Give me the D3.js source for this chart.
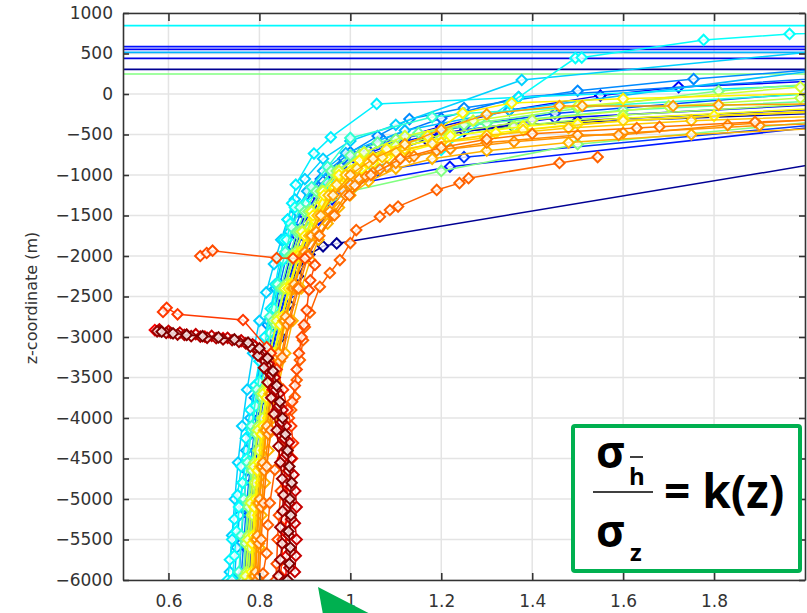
<!DOCTYPE html>
<html>
<head>
<meta charset="utf-8">
<script src="https://cdn.jsdelivr.net/npm/d3@7"></script>
<style>
  body { margin: 0; background: #fff; }
  svg { display: block; font-family: "DejaVu Sans", sans-serif; }
</style>
</head>
<body>
<svg id="chart" width="807" height="613"></svg>
<script>
// ratio sigma_h / sigma_z against depth, one profile per well
// each well: [ratio, z] pairs, colour value (0..1 on jet) kept alongside

var xTicks = [0.6, 0.8, 1, 1.2, 1.4, 1.6, 1.8];
var zTicks = [1000, 500, 0, -500, -1000, -1500, -2000, -2500, -3000, -3500, -4000, -4500, -5000, -5500, -6000];

// wells whose ratio is off the scale: only show as flat lines
var flatDepths = [843, 584, 552, 515, 440, 305, 247];
var flatColours = [0.37, 0.14, 0.12, 0.30, 0.10, 0.02, 0.50];

var navyA = [[0.775,-6000],[0.78,-5500],[0.787,-5000],[0.795,-4600],[0.805,-4200],[0.818,-3800],[0.832,-3400],[0.848,-3000],[0.865,-2600],[0.885,-2250],[0.91,-1980],[0.94,-1880],[0.97,-1845],[2.2,-700]];
var navyB = [[0.785,-5950],[0.79,-5500],[0.795,-5050],[0.803,-4600],[0.812,-4150],[0.825,-3700],[0.84,-3250],[0.857,-2800],[0.875,-2400],[0.892,-2050],[0.91,-1750],[0.93,-1500],[0.955,-1250],[0.99,-1000],[1.05,-780],[1.168,-568],[1.197,-506],[1.355,-383],[2.2,-200]];
var navyC = [[0.78,-5900],[0.784,-5450],[0.79,-5000],[0.798,-4550],[0.807,-4100],[0.819,-3650],[0.834,-3200],[0.851,-2750],[0.87,-2350],[0.89,-1950],[0.905,-1700],[0.925,-1450],[0.95,-1200],[0.985,-960],[1.04,-760],[1.12,-600],[1.25,-460],[1.5,-330],[2.2,-140]];
var blueA = [[0.765,-6000],[0.77,-5600],[0.776,-5200],[0.783,-4800],[0.792,-4400],[0.8,-4000],[0.812,-3600],[0.826,-3200],[0.842,-2800],[0.86,-2400],[0.88,-2000],[0.895,-1700],[0.915,-1450],[0.94,-1200],[0.975,-950],[1.02,-750],[1.1,-560],[1.2,-400],[1.35,-200],[1.55,-20],[1.722,86],[2.2,200]];
var blueB = [[0.78,-6000],[0.784,-5500],[0.79,-5000],[0.8,-4500],[0.81,-4000],[0.825,-3500],[0.842,-3000],[0.862,-2500],[0.885,-2050],[0.905,-1800],[0.93,-1550],[0.96,-1300],[1.0,-1120],[1.219,-898],[2.2,-300]];
var blueC = [[0.77,-5900],[0.775,-5450],[0.782,-5000],[0.79,-4550],[0.8,-4100],[0.812,-3650],[0.828,-3200],[0.845,-2750],[0.866,-2300],[0.888,-1950],[0.91,-1650],[0.94,-1400],[0.98,-1150],[1.06,-950],[1.25,-780],[2.2,-290]];
var blueD = [[0.772,-6000],[0.776,-5500],[0.782,-5000],[0.79,-4500],[0.8,-4000],[0.813,-3500],[0.828,-3000],[0.846,-2500],[0.866,-2050],[0.882,-1750],[0.9,-1500],[0.925,-1250],[0.96,-1000],[1.01,-800],[1.09,-620],[1.2,-480],[1.45,-300],[2.2,-80]];
var blueE = [[0.768,-5950],[0.773,-5500],[0.779,-5050],[0.787,-4600],[0.796,-4150],[0.807,-3700],[0.821,-3250],[0.837,-2800],[0.856,-2350],[0.876,-1950],[0.892,-1650],[0.912,-1400],[0.94,-1150],[0.98,-900],[1.04,-700],[1.12,-540],[1.25,-400],[1.45,-240],[2.2,100]];
var lightBlueA = [[0.755,-6000],[0.76,-5550],[0.765,-5100],[0.772,-4650],[0.78,-4200],[0.79,-3750],[0.803,-3300],[0.818,-2850],[0.835,-2400],[0.853,-2000],[0.868,-1700],[0.885,-1450],[0.91,-1200],[0.95,-950],[1.0,-720],[1.06,-520],[1.13,-309],[1.25,-173],[1.5,40],[1.755,185],[2.2,380]];
var lightBlueB = [[0.76,-5950],[0.766,-5500],[0.772,-5050],[0.78,-4600],[0.789,-4150],[0.8,-3700],[0.813,-3250],[0.828,-2800],[0.845,-2350],[0.862,-1950],[0.878,-1650],[0.9,-1350],[0.935,-1050],[0.985,-800],[1.07,-560],[1.2,-300],[1.37,-37],[2.2,250]];
var cyanA = [[0.745,-6000],[0.75,-5600],[0.756,-5200],[0.763,-4800],[0.771,-4400],[0.78,-4000],[0.792,-3600],[0.805,-3200],[0.82,-2800],[0.836,-2400],[0.852,-2000],[0.866,-1700],[0.882,-1450],[0.905,-1200],[0.94,-950],[0.99,-730],[1.12,-450],[1.35,-200],[2.2,420]];
var cyanB = [[0.735,-5900],[0.74,-5450],[0.746,-5000],[0.753,-4550],[0.762,-4100],[0.773,-3650],[0.786,-3200],[0.8,-2800],[0.815,-2450],[0.832,-2100],[0.848,-1800],[0.862,-1550],[0.878,-1300],[0.9,-1050],[0.94,-800],[1.0,-580],[1.1,-380],[1.377,173],[2.2,620]];
var cyanC = [[0.73,-6000],[0.735,-5750],[0.74,-5500],[0.745,-5250],[0.752,-4950],[0.76,-4600],[0.77,-4250],[0.78,-3900],[0.79,-3600],[0.8,-3300],[0.812,-3000],[0.825,-2650],[0.835,-2350],[0.845,-2050],[0.853,-1800],[0.862,-1550],[0.872,-1350],[0.88,-1120],[0.92,-735],[0.957,-535],[1.058,-123],[1.37,-40],[2.2,150]];
var cyanD = [[0.74,-6000],[0.745,-5700],[0.75,-5400],[0.755,-5100],[0.763,-4800],[0.772,-4500],[0.782,-4150],[0.792,-3850],[0.8,-3550],[0.812,-3250],[0.823,-2950],[0.832,-2650],[0.842,-2350],[0.852,-2050],[0.86,-1800],[0.868,-1600],[0.878,-1400],[0.9,-1350],[0.95,-1100],[1.05,-900],[1.2,-690],[1.35,-120],[1.495,444],[1.509,450],[1.777,667],[1.966,741],[2.2,770]];
var tealA = [[0.755,-5900],[0.76,-5450],[0.766,-5000],[0.774,-4550],[0.783,-4100],[0.795,-3650],[0.808,-3200],[0.823,-2750],[0.84,-2350],[0.857,-1950],[0.872,-1650],[0.89,-1400],[0.915,-1150],[0.95,-900],[1.0,-543],[1.18,-285],[1.25,-240],[2.2,60]];
var greenA = [[0.765,-6000],[0.77,-5550],[0.776,-5100],[0.784,-4650],[0.794,-4200],[0.806,-3750],[0.82,-3300],[0.836,-2850],[0.853,-2400],[0.872,-2000],[0.888,-1700],[0.908,-1450],[0.935,-1200],[0.97,-950],[1.02,-750],[1.1,-560],[1.25,-380],[1.5,-180],[1.81,37],[2.2,200]];
var greenB = [[0.775,-5950],[0.78,-5500],[0.786,-5050],[0.794,-4600],[0.804,-4150],[0.816,-3700],[0.83,-3250],[0.847,-2800],[0.866,-2350],[0.888,-1950],[0.91,-1650],[0.94,-1400],[1.0,-1200],[1.2,-950],[1.5,-620],[2.2,-250]];
var greenC = [[0.765,-5950],[0.769,-5500],[0.775,-5050],[0.782,-4600],[0.791,-4150],[0.802,-3700],[0.815,-3250],[0.83,-2800],[0.847,-2400],[0.866,-2000],[0.882,-1700],[0.9,-1450],[0.925,-1200],[0.958,-950],[1.0,-760],[1.06,-600],[1.15,-480],[1.3,-360],[1.6,-200],[2.2,-40]];
var limeA = [[0.775,-6000],[0.779,-5600],[0.784,-5200],[0.79,-4800],[0.798,-4400],[0.807,-4000],[0.818,-3600],[0.832,-3200],[0.848,-2800],[0.866,-2400],[0.886,-2000],[0.902,-1750],[0.92,-1500],[0.945,-1250],[0.98,-1000],[1.03,-800],[1.1,-640],[1.22,-480],[1.4,-320],[1.7,-150],[1.99,-50],[2.2,20]];
var limeB = [[0.77,-5950],[0.775,-5500],[0.781,-5050],[0.788,-4600],[0.797,-4150],[0.808,-3700],[0.822,-3250],[0.838,-2800],[0.856,-2400],[0.876,-2000],[0.894,-1700],[0.915,-1450],[0.94,-1200],[0.975,-950],[1.03,-720],[1.12,-520],[1.27,-330],[1.5,-150],[1.99,86],[2.2,150]];
var limeC = [[0.772,-5900],[0.776,-5450],[0.782,-5000],[0.789,-4550],[0.798,-4100],[0.81,-3650],[0.824,-3200],[0.84,-2750],[0.859,-2350],[0.88,-1950],[0.896,-1700],[0.914,-1450],[0.938,-1200],[0.97,-1000],[1.02,-820],[1.09,-680],[1.2,-540],[1.36,-400],[1.6,-260],[2.2,-60]];
var yellowA = [[0.78,-6000],[0.784,-5550],[0.789,-5100],[0.796,-4650],[0.805,-4200],[0.816,-3750],[0.83,-3300],[0.846,-2850],[0.864,-2400],[0.885,-2000],[0.9,-1750],[0.918,-1500],[0.942,-1250],[0.975,-1000],[1.02,-820],[1.08,-680],[1.17,-520],[1.247,-235],[1.355,-111],[1.6,-60],[2.2,40]];
var yellowB = [[0.79,-6000],[0.793,-5600],[0.797,-5200],[0.803,-4800],[0.81,-4400],[0.819,-4000],[0.83,-3600],[0.843,-3200],[0.858,-2800],[0.875,-2400],[0.895,-2000],[0.912,-1750],[0.932,-1500],[0.96,-1250],[0.98,-1120],[1.0,-1000],[1.025,-920],[1.05,-850],[1.08,-780],[1.12,-720],[1.2,-600],[1.32,-480],[1.5,-370],[1.8,-270],[2.2,-190]];
var yellowC = [[0.785,-5950],[0.789,-5500],[0.794,-5050],[0.801,-4600],[0.81,-4150],[0.822,-3700],[0.836,-3250],[0.853,-2800],[0.872,-2400],[0.893,-2000],[0.91,-1750],[0.93,-1500],[0.955,-1250],[0.99,-1000],[1.04,-820],[1.12,-680],[1.2,-600],[1.296,-543],[1.38,-445],[1.6,-330],[2.2,-160]];
var yellowD = [[0.783,-5900],[0.787,-5450],[0.792,-5000],[0.799,-4550],[0.808,-4100],[0.82,-3650],[0.834,-3200],[0.85,-2750],[0.869,-2350],[0.89,-1950],[0.905,-1750],[0.92,-1550],[0.94,-1350],[0.965,-1150],[0.985,-1050],[1.0,-950],[1.025,-860],[1.05,-780],[1.085,-700],[1.12,-640],[1.22,-520],[1.38,-400],[1.6,-300],[2.2,-130]];
var amberA = [[0.788,-5950],[0.792,-5500],[0.797,-5050],[0.804,-4600],[0.812,-4150],[0.823,-3700],[0.837,-3250],[0.853,-2800],[0.872,-2400],[0.893,-2000],[0.91,-1750],[0.928,-1500],[0.952,-1250],[0.97,-1120],[0.99,-1000],[1.015,-920],[1.04,-850],[1.07,-780],[1.1,-720],[1.18,-610],[1.3,-510],[1.48,-420],[1.75,-330],[2.2,-240]];
var orangeA = [[0.79,-5950],[0.794,-5500],[0.799,-5050],[0.806,-4600],[0.815,-4150],[0.826,-3700],[0.84,-3250],[0.856,-2800],[0.875,-2400],[0.897,-2000],[0.915,-1750],[0.935,-1500],[0.962,-1250],[1.0,-1000],[1.05,-800],[1.12,-620],[1.2,-440],[1.3,-250],[1.46,-148],[1.51,-148],[1.71,-148],[1.81,-135],[2.2,-110]];
var orangeB = [[0.795,-6000],[0.799,-5550],[0.804,-5100],[0.811,-4650],[0.82,-4200],[0.831,-3750],[0.845,-3300],[0.862,-2850],[0.882,-2400],[0.903,-2000],[0.93,-1750],[0.96,-1500],[0.99,-1250],[1.01,-1130],[1.035,-1020],[1.065,-930],[1.1,-850],[1.14,-770],[1.19,-700],[1.3,-600],[1.5,-506],[1.59,-506],[1.83,-383],[2.2,-250]];
var orangeC = [[0.792,-5900],[0.796,-5450],[0.801,-5000],[0.808,-4550],[0.817,-4100],[0.828,-3650],[0.842,-3200],[0.858,-2750],[0.877,-2350],[0.9,-1950],[0.925,-1700],[0.955,-1450],[0.985,-1200],[1.0,-1120],[1.02,-1050],[1.05,-970],[1.08,-900],[1.13,-780],[1.22,-680],[1.36,-590],[1.6,-480],[1.9,-390],[2.2,-330]];
var orangeD = [[0.8,-5950],[0.804,-5500],[0.809,-5050],[0.816,-4600],[0.825,-4150],[0.836,-3700],[0.85,-3250],[0.867,-2800],[0.886,-2400],[0.907,-2000],[0.932,-1750],[0.965,-1500],[0.998,-1250],[1.045,-1000],[1.11,-800],[1.2,-660],[1.3,-560],[1.4,-490],[1.63,-420],[1.68,-405],[1.89,-345],[2.2,-290]];
var orangeE = [[0.797,-6000],[0.8,-5600],[0.805,-5200],[0.812,-4800],[0.82,-4400],[0.83,-4000],[0.842,-3600],[0.857,-3200],[0.873,-2800],[0.892,-2400],[0.912,-2050],[0.93,-1800],[0.95,-1600],[0.975,-1400],[1.0,-1250],[1.04,-1080],[1.1,-920],[1.18,-800],[1.3,-700],[1.48,-600],[1.75,-500],[2.2,-380]];
var orangeOuter = [[0.808,-5920],[0.816,-5670],[0.819,-5320],[0.823,-5050],[0.834,-4640],[0.852,-4250],[0.87,-3900],[0.878,-3740],[0.882,-3530],[0.889,-3285],[0.896,-3040],[0.9,-2877],[0.911,-2700],[0.933,-2380],[0.955,-2210],[0.977,-2050],[1.0,-1840],[1.013,-1680],[1.065,-1515],[1.087,-1432],[1.105,-1390],[1.19,-1185],[1.24,-1100],[1.26,-1040],[1.46,-852],[1.544,-778]];
var orangeShelf = [[0.67,-2000],[0.684,-1963],[0.697,-1935],[0.838,-2025],[0.874,-2028],[0.9,-2030],[0.922,-2110],[0.912,-2300],[0.909,-2420],[0.904,-2668],[0.898,-2850],[0.893,-3000],[0.887,-3200],[0.882,-3400],[0.878,-3600],[0.872,-3800],[0.865,-4000],[0.858,-4300],[0.852,-4600],[0.847,-4900],[0.843,-5200],[0.84,-5500],[0.838,-5800],[0.836,-6000]];
var redOrange = [[0.846,-5950],[0.85,-5750],[0.851,-5500],[0.855,-5250],[0.86,-5000],[0.866,-4750],[0.872,-4500],[0.874,-4310],[0.87,-4100],[0.862,-3900],[0.852,-3650],[0.838,-3400],[0.825,-3200],[0.816,-3125],[0.764,-2790],[0.62,-2720],[0.596,-2640],[0.588,-2690]];
var redA = [[0.858,-6000],[0.86,-5700],[0.857,-5400],[0.861,-5100],[0.858,-4800],[0.852,-4500],[0.845,-4200],[0.838,-3900],[0.83,-3650],[0.82,-3420],[0.808,-3230],[0.79,-3110],[0.76,-3050],[0.72,-3015],[0.68,-2995],[0.64,-2970],[0.6,-2940],[0.57,-2915]];
var darkRedA = [[0.878,-5900],[0.88,-5700],[0.882,-5500],[0.878,-5300],[0.882,-5100],[0.879,-4900],[0.875,-4700],[0.87,-4500],[0.865,-4300],[0.858,-4100],[0.851,-3900],[0.843,-3700],[0.834,-3500],[0.82,-3330],[0.805,-3190],[0.785,-3090],[0.76,-3040],[0.73,-3010],[0.695,-2985],[0.66,-2965],[0.625,-2945],[0.6,-2925],[0.58,-2905]];
var darkRedB = [[0.842,-5950],[0.846,-5750],[0.85,-5550],[0.846,-5350],[0.851,-5150],[0.853,-4950],[0.85,-4750],[0.846,-4550],[0.842,-4350],[0.838,-4150],[0.832,-3950],[0.826,-3750],[0.818,-3560],[0.81,-3380],[0.797,-3230],[0.78,-3120],[0.755,-3060],[0.72,-3030],[0.685,-3010],[0.65,-2990],[0.62,-2970],[0.595,-2950],[0.575,-2930]];
var darkRedC = [[0.862,-6000],[0.866,-5800],[0.868,-5600],[0.864,-5400],[0.869,-5200],[0.867,-5000],[0.871,-4800],[0.866,-4600],[0.862,-4400],[0.857,-4200],[0.851,-4000],[0.845,-3800],[0.838,-3600],[0.83,-3420],[0.818,-3260],[0.8,-3140],[0.775,-3070],[0.745,-3030],[0.71,-3005],[0.675,-2990],[0.64,-2975],[0.61,-2955],[0.585,-2935]];
var darkRedD = [[0.866,-5850],[0.869,-5650],[0.865,-5450],[0.87,-5250],[0.866,-5050],[0.869,-4850],[0.864,-4650],[0.86,-4450],[0.855,-4250],[0.849,-4050],[0.843,-3850],[0.836,-3650],[0.827,-3460],[0.812,-3300],[0.795,-3170],[0.77,-3080],[0.74,-3040],[0.705,-3015],[0.67,-2995],[0.635,-2975],[0.605,-2950],[0.58,-2925]];

var wells = [
  {k: 0.02, pts: navyA}, {k: 0.04, pts: navyB}, {k: 0.06, pts: navyC},
  {k: 0.12, pts: blueA}, {k: 0.15, pts: blueB}, {k: 0.18, pts: blueC}, {k: 0.14, pts: blueD}, {k: 0.2, pts: blueE},
  {k: 0.26, pts: lightBlueA}, {k: 0.24, pts: lightBlueB},
  {k: 0.31, pts: cyanA}, {k: 0.33, pts: cyanB}, {k: 0.36, pts: cyanC}, {k: 0.38, pts: cyanD},
  {k: 0.42, pts: tealA},
  {k: 0.5, pts: greenA}, {k: 0.5, pts: greenB}, {k: 0.47, pts: greenC},
  {k: 0.56, pts: limeA}, {k: 0.58, pts: limeB}, {k: 0.54, pts: limeC},
  {k: 0.64, pts: yellowA}, {k: 0.63, pts: yellowB}, {k: 0.66, pts: yellowC}, {k: 0.62, pts: yellowD},
  {k: 0.68, pts: amberA},
  {k: 0.72, pts: orangeA}, {k: 0.74, pts: orangeB}, {k: 0.73, pts: orangeC}, {k: 0.76, pts: orangeD}, {k: 0.7, pts: orangeE},
  {k: 0.78, pts: orangeOuter}, {k: 0.8, pts: orangeShelf}, {k: 0.82, pts: redOrange},
  {k: 0.88, pts: redA}, {k: 0.93, pts: darkRedA}, {k: 0.95, pts: darkRedD}, {k: 0.97, pts: darkRedB}, {k: 1.0, pts: darkRedC}
];

var svg = d3.select("#chart");
var x = d3.scaleLinear().domain([0.5, 2.0]).range([123, 805]);
var y = d3.scaleLinear().domain([-6000, 1000]).range([580, 13]);

var jet = d3.scaleLinear()
  .domain([0, 0.125, 0.375, 0.625, 0.875, 1])
  .range(["#00007f", "#0000ff", "#00ffff", "#ffff00", "#ff0000", "#7f0000"]);

svg.append("rect").attr("width", 807).attr("height", 613).attr("fill", "#fff");

svg.append("defs").append("clipPath").attr("id", "plot")
  .append("rect").attr("x", 123).attr("y", 13).attr("width", 683).attr("height", 567);

// grid
var grid = svg.append("g").attr("stroke", "#e4e4e4").attr("stroke-width", 1.5);
grid.selectAll(".gx").data(xTicks).enter().append("line")
  .attr("x1", d => x(d)).attr("x2", d => x(d)).attr("y1", 13).attr("y2", 580);
grid.selectAll(".gz").data(zTicks).enter().append("line")
  .attr("x1", 123).attr("x2", 806).attr("y1", d => y(d)).attr("y2", d => y(d));

var plot = svg.append("g").attr("clip-path", "url(#plot)");

// flat lines up top
plot.selectAll(".flat").data(flatDepths).enter().append("line")
  .attr("x1", x(0.3)).attr("x2", x(2.3))
  .attr("y1", d => y(d)).attr("y2", d => y(d))
  .attr("stroke", (d, i) => jet(flatColours[i]))
  .attr("stroke-width", 1.7);

var line = d3.line().x(d => x(d[0])).y(d => y(d[1]));
var diamond = d3.symbol().type(d3.symbolSquare).size(54);

wells.slice().sort((a, b) => a.k - b.k).forEach(function(w) {
  var col = jet(w.k);
  var g = plot.append("g");
  g.append("path").datum(w.pts)
    .attr("d", line)
    .attr("fill", "none")
    .attr("stroke", col)
    .attr("stroke-width", 1.5);
  g.selectAll("path.m").data(w.pts).enter().append("path")
    .attr("class", "m")
    .attr("d", diamond)
    .attr("transform", d => "translate(" + x(d[0]) + "," + y(d[1]) + ") rotate(45)")
    .attr("fill", "#fff")
    .attr("fill-opacity", 0.8)
    .attr("stroke", col)
    .attr("stroke-width", 2);
});

// axes
function styleAxis(g) {
  g.selectAll("path, line").attr("stroke", "#333").attr("stroke-width", 1.6);
  g.selectAll("text").attr("fill", "#333").attr("font-size", 17)
    .attr("font-family", "DejaVu Sans, sans-serif");
}

svg.append("g").attr("transform", "translate(123,0)")
  .call(d3.axisLeft(y).tickValues(zTicks).tickSize(-6).tickSizeOuter(0).tickPadding(10).tickFormat(d3.format("d")))
  .call(styleAxis);
svg.append("g").attr("transform", "translate(0,580)")
  .call(d3.axisBottom(x).tickValues(xTicks).tickSize(-7).tickSizeOuter(0).tickPadding(15).tickFormat(d => d))
  .call(styleAxis);
svg.append("g").attr("transform", "translate(0,13)")
  .call(d3.axisTop(x).tickValues(xTicks).tickSize(-8).tickSizeOuter(0).tickFormat(""))
  .call(styleAxis);
svg.append("g").attr("transform", "translate(805,0)")
  .call(d3.axisRight(y).tickValues(zTicks).tickSize(-6).tickSizeOuter(0).tickFormat(""))
  .call(styleAxis);

svg.append("text")
  .attr("transform", "translate(37,298) rotate(-90)")
  .attr("text-anchor", "middle")
  .attr("font-size", 16)
  .attr("fill", "#333")
  .text("z-coordinate (m)");

// formula box
svg.append("rect")
  .attr("x", 573).attr("y", 426).attr("width", 227).attr("height", 145)
  .attr("rx", 2)
  .attr("fill", "#fff")
  .attr("stroke", "#00b050")
  .attr("stroke-width", 4);

var fx = svg.append("g")
  .attr("font-family", "'Open Sans', 'Liberation Sans', sans-serif")
  .attr("font-weight", 700)
  .attr("fill", "#000");
fx.append("text").attr("x", 596).attr("y", 468).attr("font-size", 44).text("σ");
fx.append("text").attr("x", 629).attr("y", 485).attr("font-size", 24).text("h");
fx.append("line").attr("x1", 630).attr("x2", 643).attr("y1", 457).attr("y2", 457)
  .attr("stroke", "#000").attr("stroke-width", 1.5);
fx.append("line").attr("x1", 593).attr("x2", 653).attr("y1", 492).attr("y2", 492)
  .attr("stroke", "#000").attr("stroke-width", 1.6);
fx.append("text").attr("x", 596).attr("y", 547).attr("font-size", 44).text("σ");
fx.append("text").attr("x", 630).attr("y", 561).attr("font-size", 24).text("z");
fx.append("text").attr("x", 664).attr("y", 508).attr("font-size", 46).text("= k(z)");

// arrow head poking in from below
svg.append("polygon")
  .attr("points", "318,587 382,620 324,620")
  .attr("fill", "#00b050");
</script>
</body>
</html>
